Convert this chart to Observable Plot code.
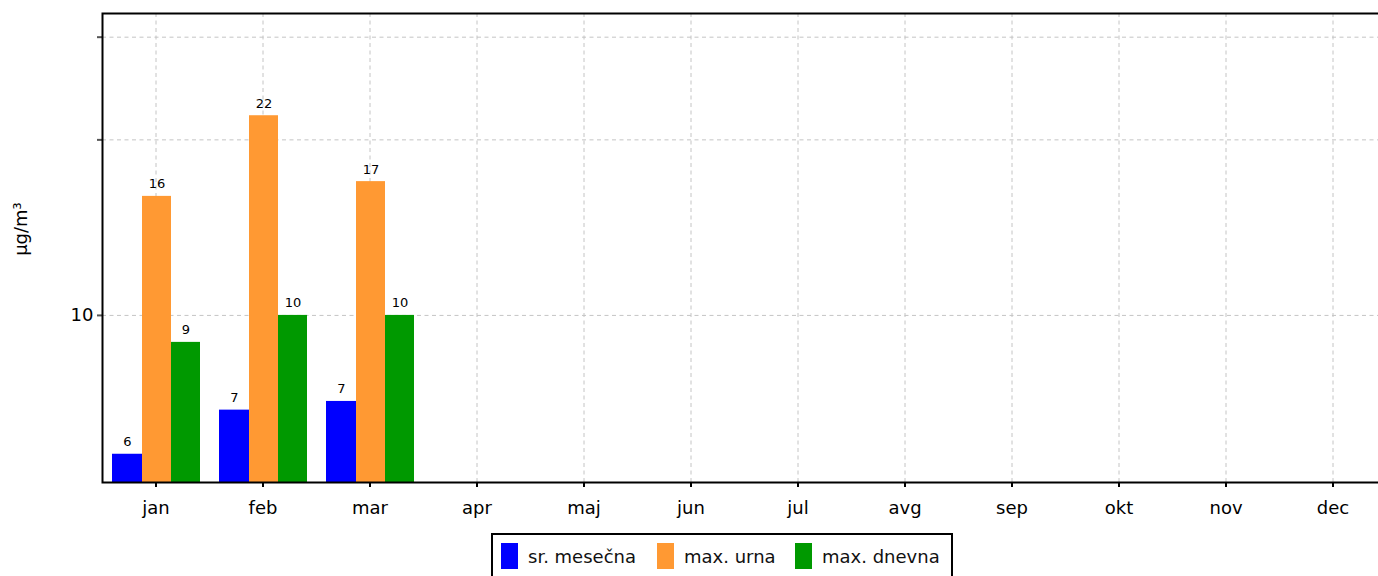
<!DOCTYPE html>
<html>
<head>
<meta charset="utf-8">
<script src="https://cdn.jsdelivr.net/npm/d3@7"></script>
<script src="https://cdn.jsdelivr.net/npm/@observablehq/plot@0.6"></script>
<style>
  html, body { margin: 0; padding: 0; background: #fff; overflow: hidden; }
  #wrap { position: relative; width: 1378px; height: 576px; overflow: hidden; font-family: "DejaVu Sans", sans-serif; }
  #chart { position: absolute; left: 0; top: 0; width: 1390px; }
  #chart svg { max-width: none !important; }
  #ylabel { position: absolute; left: 20px; top: 229px; transform: translate(-50%, -50%) rotate(-90deg); font-size: 18px; white-space: nowrap; }
  #legend { position: absolute; left: 491px; top: 533px; width: 462px; height: 60px; border: 2px solid #000; box-sizing: border-box; background: #fff; }
  .item { position: absolute; top: 8px; height: 26px; display: flex; align-items: center; font-size: 18px; color: #111; }
  .sw { width: 17px; height: 26px; margin-right: 10px; }
</style>
</head>
<body>
<div id="wrap">
  <div id="chart"></div>
  <div id="ylabel">µg/m³</div>
  <div id="legend"></div>
</div>
<script>
const months = ["jan", "feb", "mar", "apr", "maj", "jun", "jul", "avg", "sep", "okt", "nov", "dec"];
const seriesNames = ["sr. mesečna", "max. urna", "max. dnevna"];
const seriesColors = ["#0000ff", "#ff9933", "#009900"];
const srMesecna = [5.78, 6.88, 7.12];
const maxUrna = [16.0, 22.0, 16.96];
const maxDnevna = [8.99, 10.0, 10.0];
const yTicks = [10, 20, 30];
const yTickLabels = ["10", "", ""];

const yDomain = [5.17, 32.94];
const seriesValues = [srMesecna, maxUrna, maxDnevna];
const recs = seriesValues.map(vals => vals.map((v, i) => ({month: months[i], value: v})));

// position of each series bar within a month band (left inset, right inset, label dx)
const layout = [
  {l: 10, r: 67, dx: -28.5},
  {l: 40, r: 38, dx: 1},
  {l: 69, r: 9, dx: 30}
];

const marks = [
  Plot.gridY(yTicks, {stroke: "#c4c4c4", strokeOpacity: 1, strokeDasharray: "4,3.5"}),
  Plot.gridX(months, {stroke: "#c4c4c4", strokeOpacity: 1, strokeDasharray: "4,3.5"})
];
recs.forEach((data, s) => {
  marks.push(Plot.barY(data, {
    x: "month", y1: yDomain[0], y2: "value",
    fill: seriesColors[s], insetLeft: layout[s].l, insetRight: layout[s].r
  }));
  marks.push(Plot.text(data, {
    x: "month", y: "value", text: d => d3.format(".0f")(d.value),
    dx: layout[s].dx, dy: -8, lineAnchor: "bottom", fontSize: 13, fill: "#000"
  }));
});
marks.push(
  Plot.axisY(yTicks, {tickSize: 5, tickPadding: 4, stroke: "#555", strokeWidth: 2, tickFormat: (d) => yTickLabels[yTicks.indexOf(d)], fontSize: 18, label: null}),
  Plot.axisX(months, {tickSize: 5, tickPadding: 14, strokeWidth: 2, fontSize: 18, label: null}),
  Plot.frame({stroke: "#000", strokeWidth: 2})
);

const chart = Plot.plot({
  width: 1390,
  height: 530,
  marginLeft: 102,
  marginRight: 4,
  marginTop: 13,
  marginBottom: 48,
  style: {fontFamily: "DejaVu Sans", fontSize: "18px", background: "#fff", color: "#000", maxWidth: "none"},
  x: {type: "band", domain: months, padding: 0},
  y: {type: "log", domain: yDomain},
  marks
});
document.getElementById("chart").appendChild(chart);

const legend = document.getElementById("legend");
const lefts = [8, 164, 302];
seriesNames.forEach((name, i) => {
  const it = document.createElement("div");
  it.className = "item";
  it.style.left = lefts[i] + "px";
  const sw = document.createElement("div");
  sw.className = "sw";
  sw.style.background = seriesColors[i];
  const t = document.createElement("span");
  t.textContent = name;
  it.appendChild(sw);
  it.appendChild(t);
  legend.appendChild(it);
});
</script>
</body>
</html>
